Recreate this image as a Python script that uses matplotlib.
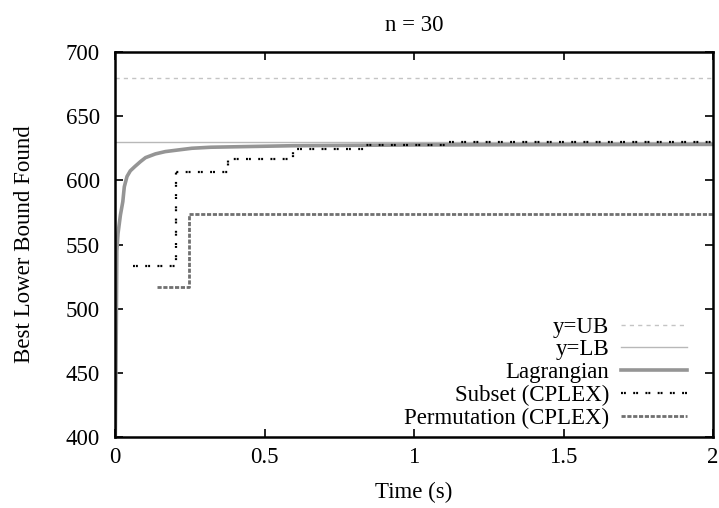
import matplotlib
matplotlib.use("Agg")
import matplotlib.pyplot as plt

plt.rcParams['font.family'] = ['Liberation Serif', 'DejaVu Serif']
plt.rcParams['lines.scale_dashes'] = False

title = "n = 30"
xlabel = "Time (s)"
ylabel = "Best Lower Bound Found"
UB = 680
LB = 630

lag_t = [0.000, 0.003, 0.006, 0.010, 0.018, 0.026, 0.031, 0.040, 0.051, 0.066,
         0.085, 0.102, 0.135, 0.168, 0.212, 0.257, 0.320, 0.600, 1.000, 2.000]
lag_v = [380, 450, 545, 558.7, 573, 583.4, 595, 603, 607.4, 610.7,
         614.6, 617.7, 620.6, 622.4, 623.7, 625.0, 625.8, 627, 627.6, 628]

sub_t = [0.060, 0.203, 0.377, 0.596, 0.840, 1.114, 2.000]
sub_v = [533.5, 606.8, 617.0, 624.5, 627.7, 630.0, 630.0]

perm_t = [0.140, 0.248, 2.000]
perm_v = [516.6, 573.8, 573.8]

xticks = [0, 0.5, 1, 1.5, 2]
xticklabels = ["0", "0.5", "1", "1.5", "2"]
yticks = [400, 450, 500, 550, 600, 650, 700]

fig = plt.figure(figsize=(7.19, 5.08), dpi=100)
ax = fig.add_axes([0.160, 0.1398, 0.8317, 0.7578])

ax.axhline(UB, color='#c4c4c4', lw=1.0, dashes=(3, 3), label='y=UB')
ax.axhline(LB, color='#b8b8b8', lw=1.0, label='y=LB')
ax.plot(lag_t, lag_v, color='#959595', lw=2.6, label='Lagrangian')
ax.plot(sub_t, sub_v, color='black', lw=1.6, drawstyle='steps-post',
        dashes=(1.4, 0.7, 1.4, 5.3), label='Subset (CPLEX)')
ax.plot(perm_t, perm_v, color='#707070', lw=2.0, drawstyle='steps-post',
        dashes=(3.0, 1.2), label='Permutation (CPLEX)')

ax.set_xlim(0, 2)
ax.set_ylim(400, 700)
ax.set_xticks(xticks)
ax.set_xticklabels(xticklabels)
ax.set_yticks(yticks)
ax.tick_params(direction='in', length=6, width=1.2, labelsize=16.5,
               top=True, right=True)
ax.tick_params(axis='y', pad=11)
ax.tick_params(axis='x', pad=7)
for s in ax.spines.values():
    s.set_linewidth(1.8)

ax.set_title(title, fontsize=16.5, pad=15)
ax.set_xlabel(xlabel, fontsize=16.5, labelpad=10)
ax.set_ylabel(ylabel, fontsize=16.5, labelpad=22)

leg = ax.legend(loc='lower right', bbox_to_anchor=(0.9565, 0.02),
                markerfirst=False, frameon=False,
                fontsize=16.5, handlelength=2.9, handletextpad=0.5,
                labelspacing=0.08, borderaxespad=0.0, borderpad=0.0)

fig.savefig('out.png', dpi=100)
